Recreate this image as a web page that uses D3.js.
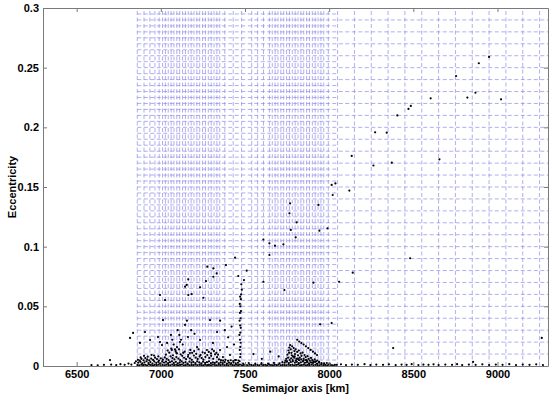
<!DOCTYPE html>
<html>
<head>
<meta charset="utf-8">
<script src="https://d3js.org/d3.v7.min.js"></script>
<style>
  body { margin: 0; background: #fff; }
  svg text { font-family: "Liberation Sans", Arial, sans-serif; font-weight: bold; fill: #000; }
</style>
</head>
<body>
<svg></svg>
<script>
    // Axis ticks
    var xTicks = [6500, 7000, 7500, 8000, 8500, 9000];
    var yTicks = [0, 0.05, 0.1, 0.15, 0.2, 0.25, 0.3];

    // Blue dashed cell grid (semimajor axis edges, eccentricity edges)
    var gridA = [6860, 6900, 6935, 6965, 6990,
        7010, 7027, 7044, 7061, 7078, 7095, 7112, 7129, 7146, 7163, 7180, 7197, 7214, 7231, 7248, 7265, 7282, 7299, 7316, 7333, 7350,
        7380, 7430, 7480, 7540, 7575, 7610,
        7645, 7662, 7679, 7696, 7713, 7730, 7747, 7764, 7781, 7798, 7815, 7832, 7849, 7866, 7883, 7900, 7917, 7934, 7951, 7968,
        7995, 8050, 8150, 8250, 8350, 8450, 8550, 8650, 8750, 8850, 8950, 9050, 9150, 9250];
    var gridEFine = [0.005, 0.015, 0.025, 0.035, 0.045, 0.055, 0.065, 0.075, 0.085, 0.095, 0.105, 0.115, 0.125, 0.135, 0.145,
        0.155, 0.165, 0.175, 0.185, 0.195, 0.205, 0.215, 0.225, 0.235, 0.245, 0.255, 0.265, 0.275, 0.285, 0.295];
    var gridECoarse = [0.01, 0.02, 0.03, 0.04, 0.05, 0.06, 0.07, 0.08, 0.09, 0.1, 0.11, 0.12, 0.13, 0.14, 0.15,
        0.16, 0.17, 0.18, 0.19, 0.2, 0.21, 0.22, 0.23, 0.24, 0.25, 0.26, 0.27, 0.28, 0.29];
    var fineRange = [6860, 8050];
    var coarseRange = [6860, 9300];

    // Objects: [semimajor axis km, eccentricity]
    var baseRow = [[6861,.0008],[6872,.0005],[6884,.0011],[6895,.0007],[6907,.0010],[6918,.0006],[6930,.0012],[6941,.0008],[6953,.0005],[6964,.0010],
        [6976,.0007],[6987,.0012],[6999,.0006],[7010,.0009],[7022,.0005],[7033,.0011],[7045,.0008],[7056,.0006],[7068,.0012],[7079,.0007],
        [7091,.0010],[7102,.0005],[7114,.0009],[7125,.0012],[7137,.0006],[7148,.0008],[7160,.0011],[7171,.0005],[7183,.0009],[7194,.0007],
        [7206,.0012],[7217,.0006],[7229,.0010],[7240,.0008],[7252,.0005],[7263,.0011],[7275,.0007],[7286,.0009],[7298,.0006],[7309,.0012],
        [7321,.0008],[7332,.0005],[7344,.0010],[7355,.0007],[7367,.0011],[7378,.0006],[7390,.0009],[7401,.0005],[7413,.0012],[7424,.0008],
        [7436,.0006],[7447,.0010],[7459,.0007],[7470,.0011],[7482,.0005],[7493,.0009],[7505,.0008],[7516,.0006],[7528,.0011],[7539,.0007],
        [7551,.0005],[7562,.0010],[7574,.0008],[7585,.0006],[7597,.0012],[7608,.0007],[7620,.0009],[7631,.0005],[7643,.0011],[7654,.0008],
        [7666,.0006],[7677,.0010],[7689,.0007],[7700,.0012],[7712,.0005],[7723,.0009],[7735,.0008],[7746,.0006],[7758,.0011],[7769,.0007],
        [7781,.0010],[7792,.0005],[7804,.0009],[7815,.0012],[7827,.0006],[7838,.0008],[7850,.0011],[7861,.0005],[7873,.0009],[7884,.0007],
        [7896,.0012],[7907,.0006],[7919,.0010],[7930,.0008],[7942,.0005],[7953,.0011],[7965,.0007],[7976,.0009],[7988,.0006],[7999,.0010],
        [8011,.0008],[8022,.0005],[8034,.0009]];

    var secondRow = [[6866,.0028],[6879,.0035],[6890,.0022],[6903,.0031],[6915,.0040],[6926,.0025],[6938,.0033],[6950,.0021],[6961,.0038],[6973,.0027],
        [6985,.0034],[6996,.0023],[7008,.0039],[7019,.0029],[7031,.0036],[7043,.0024],[7054,.0032],[7066,.0040],[7077,.0026],[7089,.0035],
        [7101,.0022],[7112,.0030],[7124,.0038],[7135,.0027],[7147,.0033],[7158,.0021],[7170,.0037],[7182,.0028],[7193,.0034],[7205,.0025],
        [7216,.0039],[7228,.0030],[7240,.0023],[7251,.0036],[7263,.0027],[7274,.0032],[7286,.0040],[7297,.0024],[7309,.0031],[7321,.0026],
        [7332,.0035],[7344,.0022],[7356,.0030],[7368,.0025],[7380,.0033],[7393,.0021],[7405,.0028],[7418,.0024],[7432,.0031],[7445,.0022],
        [7458,.0027],[7489,.0021],[7522,.0025],[7561,.0020],[7598,.0024],[7637,.0021],[7672,.0026],[7705,.0023],[7722,.0032],[7736,.0028],
        [7748,.0036],[7760,.0025],[7772,.0033],[7784,.0040],[7796,.0029],[7808,.0035],[7820,.0024],[7832,.0031],[7844,.0038],[7856,.0027],
        [7868,.0033],[7880,.0022],[7892,.0030],[7904,.0026],[7916,.0034],[7928,.0021],[7941,.0028],[7955,.0024],[7970,.0022],[7986,.0025],[8003,.0020]];

    var thickCore = [[6864,.0052],[6874,.0045],[6885,.0060],[6897,.0048],[6908,.0066],[6919,.0055],[6931,.0047],[6943,.0062],[6954,.0051],[6966,.0070],
        [6977,.0058],[6989,.0046],[7000,.0064],[7012,.0053],[7023,.0072],[7035,.0060],[7046,.0049],[7058,.0081],[7069,.0066],[7081,.0055],
        [7092,.0075],[7104,.0062],[7115,.0050],[7127,.0085],[7138,.0069],[7150,.0057],[7161,.0078],[7173,.0064],[7184,.0052],[7196,.0088],
        [7207,.0071],[7219,.0059],[7230,.0080],[7242,.0066],[7253,.0054],[7265,.0076],[7276,.0092],[7288,.0068],[7299,.0085],[7311,.0060],
        [7322,.0098],[7334,.0074],[7345,.0056],[7357,.0049],[7370,.0045],[7384,.0052],[7399,.0043],[7415,.0048],[7430,.0042],[7446,.0050],
        [7462,.0046],[7030,.0095],[7050,.0112],[7072,.0090],[7095,.0105],[7118,.0098],[7141,.0120],[7163,.0094],[7186,.0110],[7210,.0102],
        [7236,.0093],[7262,.0108],[7285,.0118],[7298,.0105],[7315,.0125],[7330,.0110],[6900,.0085],[6945,.0092],[6985,.0080],
        [6880,.0072],[6922,.0078],[6960,.0088],[7040,.0130],[7062,.0145],[7088,.0125],[7108,.0140],[7133,.0110],[7175,.0135],[7198,.0125],
        [7224,.0140],[7248,.0115],[7305,.0140],[7340,.0095]];

    var blob7800 = [[7745,.0060],[7752,.0095],[7758,.0130],[7763,.0155],[7768,.0175],[7772,.0140],[7776,.0110],[7780,.0165],[7785,.0080],[7789,.0150],
        [7793,.0125],[7797,.0100],[7801,.0140],[7806,.0060],[7810,.0118],[7815,.0090],[7820,.0130],[7825,.0070],[7830,.0105],[7836,.0085],
        [7842,.0112],[7848,.0060],[7854,.0092],[7860,.0075],[7866,.0050],[7872,.0082],[7878,.0060],[7885,.0045],[7892,.0068],[7899,.0050],
        [7906,.0038],[7914,.0055],[7922,.0040],[7930,.0046],[7940,.0035],[7756,.0070],[7766,.0050],[7774,.0065],[7783,.0050],[7792,.0070],
        [7802,.0045],[7812,.0062],[7822,.0048],[7834,.0055],[7846,.0042],[7858,.0050],[7870,.0038],[7762,.0110],[7778,.0090],[7795,.0080],
        [7818,.0055],[7750,.0040],[7740,.0045],
        [7810,.0220],[7822,.0205],[7835,.0192],[7848,.0180],[7862,.0165],[7876,.0150],[7890,.0135],[7904,.0120],[7916,.0105],[7928,.0092]];

    var streak7470 = [[7468,.0040],[7471,.0075],[7473,.0100],[7469,.0135],[7472,.0160],[7474,.0195],[7470,.0220],[7467,.0260],[7472,.0280],[7475,.0320],
        [7471,.0340],[7468,.0380],[7473,.0400],[7470,.0445],[7476,.0460],[7472,.0500],[7469,.0520],[7475,.0560],[7477,.0600],[7481,.0640],[7478,.0685]];

    var lowScatter = [[6835,.0277],[6817,.0235],[6876,.0193],[6906,.0285],[6936,.0218],[6983,.0243],[6995,.0201],[7007,.0176],[7037,.0193],[7066,.0134],
        [7096,.0159],[7114,.0201],[7144,.0344],[7161,.0243],[7173,.0109],[7215,.0159],[7233,.0218],[7274,.0134],[7310,.0193],[7352,.0134],
        [7369,.0075],[7393,.0159],[7411,.0092],[7441,.0050],[7292,.0385],[7334,.0285],[7013,.0385],[6698,.0050],
        [7060,.0260],[7068,.0220],[7076,.0180],[7084,.0140],[7092,.0110],[7100,.0300],[7110,.0260],[7120,.0220],[7130,.0180],
        [7155,.0380],[7180,.0300],[7200,.0270],[7352,.0380],[7380,.0300],[7400,.0240],[7420,.0330],[7435,.0180],
        [7550,.0100],[7600,.0060],[7650,.0120],[7700,.0080],[7946,.0350],[8015,.0360],[8380,.0150],[9263,.0235],[8855,.0034]];

    var highScatter = [[7163,.0726],[7144,.0665],[7154,.0679],[7233,.0659],[7163,.0595],[7183,.0603],[6995,.0595],[7471,.0581],[7734,.0637],[7253,.0572],
        [7025,.0553],[7276,.0832],[7312,.0818],[7332,.0776],[7312,.0748],[7268,.0712],[7460,.0754],[7510,.0799],[7494,.0720],[7609,.0706],
        [7906,.0698],[7441,.0908],[7387,.0846],[7645,.0930],[7609,.1060],[7645,.1028],[7678,.1008],[7728,.1020],[7801,.1078],[7772,.1140],
        [7942,.1134],[7807,.1204],[7764,.1280],[7768,.1363],[7936,.1350],[8015,.1517],[8037,.1530],[8021,.1433],[8120,.1470],[7990,.1154],
        [8481,.0903],[8140,.0782],[8059,.0706],[8134,.1760],[8263,.1680],[8372,.1704],[8655,.1732],[8273,.1958],[8342,.1955],[8405,.2100],
        [8471,.2154],[8485,.2179],[8603,.2243],[8821,.2249],[8869,.2290],[9021,.2235],[8754,.2430],[8889,.2537],[8950,.2590]];

    var tails = [[6588,.0008],[6625,.0005],[6662,.0010],[6705,.0012],[6735,.0008],[6760,.0015],[6785,.0010],[6808,.0020],[6825,.0012],[6845,.0025],[6852,.0040],
        [8045,.0010],[8070,.0014],[8100,.0008],[8135,.0012],[8170,.0010],[8210,.0015],[8245,.0008],[8280,.0012],[8320,.0010],[8355,.0014],
        [8395,.0008],[8430,.0012],[8460,.0010],[8490,.0015],[8530,.0008],[8560,.0012],[8590,.0010],[8620,.0014],[8650,.0008],[8690,.0012],
        [8730,.0010],[8760,.0015],[8790,.0008],[8830,.0012],[8870,.0010],[8910,.0014],[8950,.0008],[8990,.0012],[9030,.0010],[9070,.0015],
        [9110,.0008],[9150,.0012],[9190,.0010],[9230,.0014],[9270,.0008]];

    var allPoints = [].concat(baseRow, secondRow, thickCore, blob7800, streak7470, lowScatter, highScatter, tails);

    // Variables
    var width = 550;
    var height = 397;
    var x = d3.scaleLinear().domain([6300, 9300]).range([43, 548]);
    var y = d3.scaleLinear().domain([0, 0.3]).range([366, 8]);

    var svg = d3.select('svg')
        .attr('width', width)
        .attr('height', height);

    // Grid
    var grid = svg.append('g')
        .attr('stroke', '#8c8ce8')
        .attr('stroke-width', 0.7)
        .attr('stroke-dasharray', '4,2.5')
        .attr('fill', 'none');

    grid.selectAll('line.v')
        .data(gridA)
        .enter().append('line')
        .attr('x1', function (d) { return x(d); })
        .attr('x2', function (d) { return x(d); })
        .attr('y1', y(0))
        .attr('y2', y(0.3));

    grid.selectAll('line.hf')
        .data(gridEFine)
        .enter().append('line')
        .attr('x1', x(fineRange[0]))
        .attr('x2', x(fineRange[1]))
        .attr('y1', function (d) { return y(d); })
        .attr('y2', function (d) { return y(d); });

    grid.selectAll('line.hc')
        .data(gridECoarse)
        .enter().append('line')
        .attr('x1', x(coarseRange[0]))
        .attr('x2', x(coarseRange[1]))
        .attr('y1', function (d) { return y(d); })
        .attr('y2', function (d) { return y(d); });

    // Points
    svg.append('g')
        .selectAll('circle')
        .data(allPoints)
        .enter().append('circle')
        .attr('cx', function (d) { return x(d[0]); })
        .attr('cy', function (d) { return y(d[1]); })
        .attr('r', 1.1)
        .attr('fill', '#000');

    // Axes (box with inward ticks)
    function styleAxis(g) {
        g.selectAll('path').attr('stroke', '#7a7a7a');
        g.selectAll('line').attr('stroke', '#7a7a7a');
        g.selectAll('text').attr('font-size', 11).attr('fill', '#000');
    }

    svg.append('g')
        .attr('transform', 'translate(0,' + y(0) + ')')
        .call(d3.axisBottom(x).tickValues(xTicks).tickSize(-4).tickSizeOuter(0).tickPadding(4).tickFormat(d3.format('d')))
        .call(styleAxis);

    svg.append('g')
        .attr('transform', 'translate(0,' + y(0.3) + ')')
        .call(d3.axisTop(x).tickValues(xTicks).tickSize(-4).tickSizeOuter(0).tickFormat(''))
        .call(styleAxis);

    svg.append('g')
        .attr('transform', 'translate(' + x(6300) + ',0)')
        .call(d3.axisLeft(y).tickValues(yTicks).tickSize(-4).tickSizeOuter(0).tickPadding(4).tickFormat(function (d) { return d3.format('')(+d.toFixed(2)); }))
        .call(styleAxis);

    svg.append('g')
        .attr('transform', 'translate(' + x(9300) + ',0)')
        .call(d3.axisRight(y).tickValues(yTicks).tickSize(-4).tickSizeOuter(0).tickFormat(''))
        .call(styleAxis);

    svg.selectAll('.domain').attr('stroke-width', 1);
    svg.selectAll('.tick text').attr('font-family', '"Liberation Sans", Arial, sans-serif').attr('font-weight', 'bold');

    // Axis titles
    svg.append('text')
        .attr('x', (x(6300) + x(9300)) / 2)
        .attr('y', 392)
        .attr('text-anchor', 'middle')
        .attr('font-size', 11)
        .text('Semimajor axis [km]');

    svg.append('text')
        .attr('transform', 'translate(16,' + (y(0) + y(0.3)) / 2 + ') rotate(-90)')
        .attr('text-anchor', 'middle')
        .attr('font-size', 11)
        .text('Eccentricity');
</script>
</body>
</html>
